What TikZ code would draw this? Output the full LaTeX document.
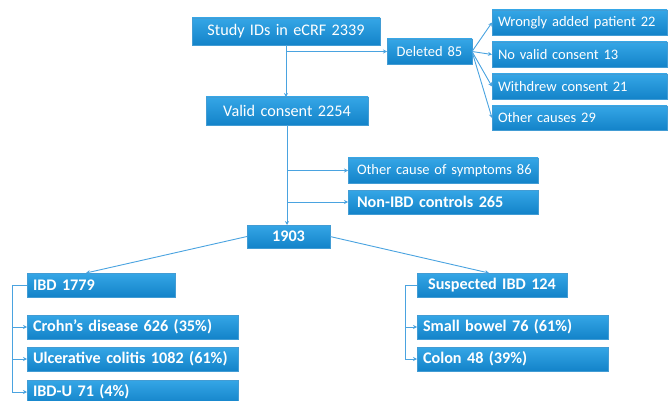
\documentclass[tikz,border=0pt]{standalone}
\usepackage{fontspec}
\setmainfont{Carlito}
\usetikzlibrary{arrows.meta,shadows,calc}
\definecolor{boxtop}{HTML}{35A6E6}
\definecolor{boxbot}{HTML}{1383C9}
\definecolor{lin}{HTML}{4AA3E0}
\tikzset{
  bx/.style={anchor=north west, inner sep=0pt, outer sep=0pt, top color=boxtop, bottom color=boxbot,
    draw=boxbot!80!white, line width=0.3pt, text=white, font=\fontsize{14.5}{16}\selectfont,
    drop shadow={opacity=0.35, shadow xshift=1.2pt, shadow yshift=-1.2pt}},
  big/.style={font=\fontsize{16.2}{18}\selectfont},
  arr/.style={draw=lin, line width=0.9pt, -{Stealth[length=4pt,width=4pt]}},
  ln/.style={draw=lin, line width=0.9pt}
}
% \bxl[style]{name}{x1}{y1}{x2}{y2}{pad}{text}  left aligned
\newcommand{\bxl}[8][]{\node[bx,#1, minimum width={#5-#3}, minimum height={#6-#4}, text width={#5-#3}, align=left] (#2) at (#3,#4) {\hspace*{#7pt}#8};}
\newcommand{\bxc}[7][]{\node[bx,#1, minimum width={#5-#3}, minimum height={#6-#4}, text width={#5-#3}, align=center] (#2) at (#3,#4) {#7};}
\begin{document}
\begin{tikzpicture}[x=1pt,y=-1pt]
\useasboundingbox (0,0) rectangle (672,401);
\bxc[big]{s}{192}{18}{380}{45}{Study IDs in eCRF 2339}
\bxc{d}{387}{39}{472}{64}{Deleted 85}
\bxl{w1}{492}{10}{667}{35}{6}{Wrongly added patient 22}
\bxl{w2}{492}{42}{667}{67}{6}{No valid consent 13}
\bxl{w3}{492}{74}{667}{99}{6}{Withdrew consent 21}
\bxl{w4}{492}{106}{667}{130}{6}{Other causes 29}
\bxc[big]{v}{206}{97}{368}{125}{Valid consent 2254}
\bxl{o}{348}{158}{538}{183}{9}{Other cause of symptoms 86}
\bxl[big]{c}{348}{190}{538}{214}{9}{\textbf{Non-IBD controls 265}}
\bxc[big]{n}{247}{225}{330}{248}{\textbf{1903}}
\bxl[big]{ibd}{27}{273}{175}{297}{6}{\textbf{IBD 1779}}
\bxl[big]{cd}{27}{315}{238}{339}{6}{\textbf{Crohn’s disease 626 (35\%)}}
\bxl[big]{uc}{27}{347}{238}{371}{6}{\textbf{Ulcerative colitis 1082 (61\%)}}
\bxl[big]{ibdu}{27}{380}{238}{404}{6}{\textbf{IBD-U 71 (4\%)}}
\bxc[big]{sus}{417}{273}{567}{297}{\textbf{Suspected IBD 124}}
\bxl[big]{sb}{417}{315}{608}{339}{6}{\textbf{Small bowel 76 (61\%)}}
\bxl[big]{co}{417}{347}{608}{371}{6}{\textbf{Colon 48 (39\%)}}
% connectors
\draw[arr] (s.south) -- (s.south |- v.north);
\draw[arr] (s.south |- d.west) -- (d.west);
\foreach \t in {w1,w2,w3,w4} \draw[arr] (d.east) -- (\t.west);
\draw[arr] (v.south) -- (v.south |- n.north);
\draw[arr] (v.south |- o.west) -- (o.west);
\draw[arr] (v.south |- c.west) -- (c.west);
\draw[arr] (n.west) -- ([xshift=-15pt]ibd.north);
\draw[arr] (n.east) -- ([xshift=-3pt]sus.north);
\draw[ln] (ibd.west) -- ++(-15,0) -- ([xshift=-15pt]ibdu.west);
\foreach \t in {cd,uc,ibdu} \draw[arr] ([xshift=-15pt]\t.west) -- (\t.west);
\draw[ln] (sus.west) -- ++(-12,0) -- ([xshift=-12pt]co.west);
\foreach \t in {sb,co} \draw[arr] ([xshift=-12pt]\t.west) -- (\t.west);
\end{tikzpicture}
\end{document}
